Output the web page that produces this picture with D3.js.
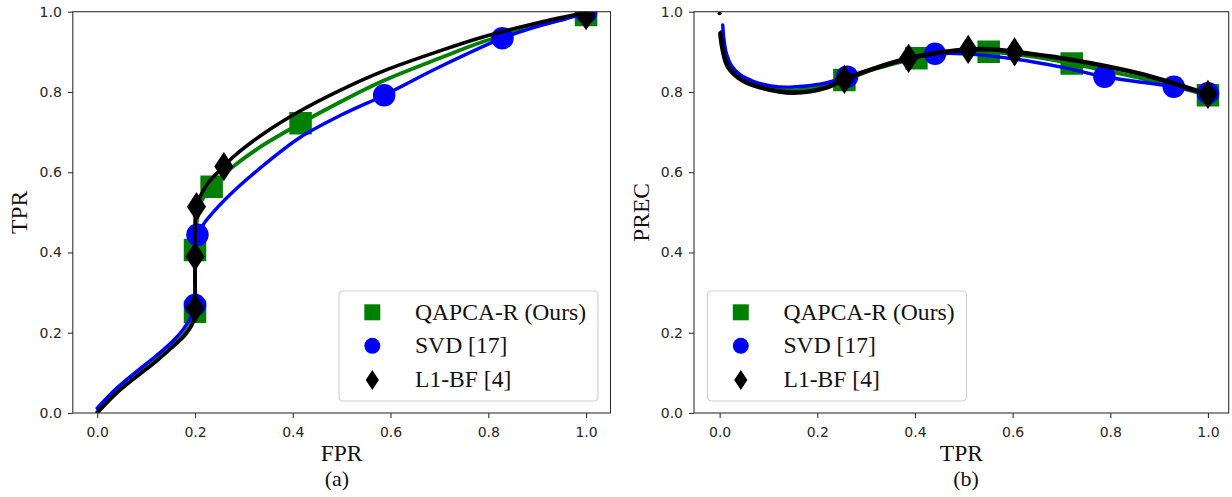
<!DOCTYPE html>
<html>
<head>
<meta charset="utf-8">
<script src="https://cdn.jsdelivr.net/npm/d3@7"></script>
<style>
  html, body { margin: 0; padding: 0; background: #fff; }
  svg { display: block; }
</style>
</head>
<body>
<svg id="chart" width="1232" height="497"></svg>
<script>
// ---------------- DATA ----------------
const tickValues = [0.0, 0.2, 0.4, 0.6, 0.8, 1.0];
const seriesNames = ["QAPCA-R (Ours)", "SVD [17]", "L1-BF [4]"];
const seriesColors = ["#008000", "#0000ff", "#000000"];
const seriesShapes = ["square", "circle", "diamond"];

// Panel (a): ROC curves, [FPR, TPR]
const rocQapcaLine = [[0,0.003],[0.04,0.052],[0.08,0.093],[0.12,0.132],[0.15,0.163],[0.18,0.2],[0.196,0.232],[0.2,0.26],[0.2,0.33],[0.2,0.406],[0.204,0.48],[0.214,0.53],[0.234,0.564],[0.278,0.614],[0.34,0.668],[0.416,0.722],[0.5,0.777],[0.585,0.828],[0.7,0.884],[0.789,0.925],[0.9,0.965],[1.0,0.995]];
const rocSvdLine   = [[0,0.012],[0.04,0.062],[0.08,0.103],[0.12,0.142],[0.15,0.174],[0.175,0.207],[0.192,0.24],[0.2,0.27],[0.2,0.35],[0.202,0.41],[0.205,0.444],[0.22,0.475],[0.237,0.5],[0.26,0.53],[0.29,0.565],[0.35,0.627],[0.414,0.686],[0.5,0.743],[0.587,0.792],[0.7,0.862],[0.829,0.934],[0.9,0.963],[0.96,0.983],[1.0,0.998]];
const rocL1bfLine  = [[0,0],[0.04,0.05],[0.08,0.09],[0.12,0.128],[0.15,0.16],[0.18,0.195],[0.196,0.226],[0.2,0.26],[0.2,0.33],[0.2,0.39],[0.2,0.45],[0.203,0.514],[0.225,0.57],[0.259,0.614],[0.278,0.638],[0.34,0.696],[0.414,0.752],[0.5,0.806],[0.585,0.852],[0.7,0.902],[0.789,0.937],[0.9,0.972],[0.96,0.988],[1.0,0.998]];
const rocQapcaMarks = [[0.2,0.252],[0.2,0.406],[0.234,0.564],[0.416,0.722],[1.0,0.992]];
const rocSvdMarks   = [[0.2,0.269],[0.205,0.444],[0.587,0.792],[0.829,0.934],[1.0,0.998]];
const rocL1bfMarks  = [[0.2,0.261],[0.2,0.39],[0.203,0.514],[0.259,0.614],[1.0,0.99]];

// Panel (b): precision curves, [TPR, PREC]
const prQapcaLine = [[0.004,0.95],[0.008,0.91],[0.015,0.876],[0.03,0.845],[0.06,0.822],[0.1,0.81],[0.15,0.804],[0.2,0.812],[0.2555,0.83],[0.32,0.858],[0.403,0.884],[0.47,0.897],[0.551,0.9],[0.63,0.89],[0.721,0.871],[0.86,0.835],[1.0,0.792]];
const prSvdLine   = [[0.0063,0.967],[0.009,0.93],[0.014,0.895],[0.024,0.866],[0.04,0.845],[0.07,0.826],[0.105,0.815],[0.144,0.812],[0.208,0.82],[0.261,0.838],[0.35,0.87],[0.441,0.895],[0.505,0.895],[0.604,0.882],[0.7,0.862],[0.788,0.838],[0.93,0.813],[1.0,0.797]];
const prL1bfLine  = [[0.0015,0.946],[0.0063,0.905],[0.017,0.863],[0.045,0.83],[0.081,0.812],[0.151,0.798],[0.222,0.812],[0.2555,0.8315],[0.32,0.86],[0.387,0.884],[0.45,0.898],[0.509,0.906],[0.56,0.906],[0.604,0.9],[0.717,0.881],[0.859,0.846],[1.0,0.794]];
const prQapcaMarks = [[0.2555,0.83],[0.403,0.884],[0.551,0.9],[0.721,0.871],[1.0,0.792]];
const prSvdMarks   = [[0.261,0.838],[0.441,0.895],[0.788,0.838],[0.93,0.813],[1.0,0.797]];
const prL1bfMarks  = [[0.2555,0.8315],[0.387,0.884],[0.509,0.906],[0.604,0.9],[1.0,0.794]];
const prL1bfOrigin = [[0,1.0]];

// ---------------- DRAW ----------------
const svg = d3.select("#chart");
const tickFont = "'DejaVu Sans', sans-serif";
const serif = "'Liberation Serif', 'Times New Roman', serif";

function markerPath(shape, s) {
  if (shape === "square") return `M${-s/2},${-s/2}H${s/2}V${s/2}H${-s/2}Z`;
  if (shape === "circle") { const r = s/2; return `M${r},0A${r},${r} 0 1,1 ${-r},0A${r},${r} 0 1,1 ${r},0Z`; }
  const h = s * 1.3 / 2, w = s * 0.85 / 2;
  return `M0,${-h}L${w},0L0,${h}L${-w},0Z`;
}

const panels = [
  { id: "a", xRange: [72.8, 610.5], xDomain: [-0.05, 1.05], xLabel: "FPR", yLabel: "TPR", caption: "(a)",
    yLabelX: 26.7, captionX: 337,
    lines: [rocQapcaLine, rocSvdLine, rocL1bfLine], widths: [3.8, 3.4, 3.6],
    marks: [rocQapcaMarks, rocSvdMarks, rocL1bfMarks], legendX: 339, extra: [] },
  { id: "b", xRange: [694, 1228.7], xDomain: [-0.0525, 1.0425], xLabel: "TPR", yLabel: "PREC", caption: "(b)",
    yLabelX: 649, captionX: 966,
    lines: [prQapcaLine, prSvdLine, prL1bfLine], widths: [4, 3.4, 4.6],
    marks: [prQapcaMarks, prSvdMarks, prL1bfMarks], legendX: 707.5, extra: prL1bfOrigin }
];

const yRange = [413, 11.7];

panels.forEach(p => {
  const x = d3.scaleLinear().domain(p.xDomain).range(p.xRange);
  const y = d3.scaleLinear().domain([0, 1]).range(yRange);
  const g = svg.append("g");

  const clipId = "clip-" + p.id;
  svg.append("clipPath").attr("id", clipId).append("rect")
    .attr("x", p.xRange[0]).attr("y", yRange[1])
    .attr("width", p.xRange[1] - p.xRange[0]).attr("height", yRange[0] - yRange[1]);

  const plot = g.append("g").attr("clip-path", `url(#${clipId})`);
  const line = d3.line().x(d => x(d[0])).y(d => y(d[1])).curve(d3.curveCatmullRom.alpha(0.5));

  p.lines.forEach((data, i) => {
    plot.append("path").datum(data).attr("d", line)
      .attr("fill", "none").attr("stroke", seriesColors[i])
      .attr("stroke-width", p.widths[i]).attr("stroke-linejoin", "round").attr("stroke-linecap", "round");
    const shape = seriesShapes[i];
    plot.selectAll(null).data(p.marks[i]).enter().append("path")
      .attr("transform", d => `translate(${x(d[0])},${y(d[1])})`)
      .attr("d", markerPath(shape, 22.5))
      .attr("fill", seriesColors[i]);
  });
  plot.selectAll(null).data(p.extra).enter().append("circle")
    .attr("cx", d => x(d[0])).attr("cy", d => y(d[1]) + 1.5).attr("r", 2).attr("fill", "#000");

  // spines
  g.append("rect").attr("x", p.xRange[0]).attr("y", yRange[1])
    .attr("width", p.xRange[1] - p.xRange[0]).attr("height", yRange[0] - yRange[1])
    .attr("fill", "none").attr("stroke", "#333").attr("stroke-width", 1.1);

  // axes
  const xAxis = g.append("g").attr("transform", `translate(0,${yRange[0]})`)
    .call(d3.axisBottom(x).tickValues(tickValues).tickFormat(d3.format(".1f")).tickSize(5).tickPadding(9));
  const yAxis = g.append("g").attr("transform", `translate(${p.xRange[0]},0)`)
    .call(d3.axisLeft(y).tickValues(tickValues).tickFormat(d3.format(".1f")).tickSize(5).tickPadding(6));
  [xAxis, yAxis].forEach(a => {
    a.select(".domain").remove();
    a.selectAll(".tick line").attr("stroke", "#333").attr("stroke-width", 1.1);
    a.selectAll(".tick text").attr("fill", "#262626").style("font-family", tickFont).style("font-size", "14px");
  });

  // labels
  const cx = (p.xRange[0] + p.xRange[1]) / 2;
  g.append("text").attr("x", cx).attr("y", 461).attr("text-anchor", "middle")
    .style("font-family", serif).style("font-size", "23.5px").attr("fill", "#111").text(p.xLabel);
  g.append("text").attr("x", p.captionX).attr("y", 486).attr("text-anchor", "middle")
    .style("font-family", serif).style("font-size", "22px").attr("fill", "#111").text(p.caption);
  g.append("text").attr("transform", `translate(${p.yLabelX},${(yRange[0] + yRange[1]) / 2}) rotate(-90)`)
    .attr("text-anchor", "middle")
    .style("font-family", serif).style("font-size", "23.5px").attr("fill", "#111").text(p.yLabel);

  // legend
  const lg = g.append("g").attr("transform", `translate(${p.legendX},291)`);
  lg.append("rect").attr("x", 0).attr("y", 0).attr("width", 259).attr("height", 110)
    .attr("rx", 4).attr("ry", 4).attr("fill", "#fff").attr("fill-opacity", 0.8)
    .attr("stroke", "#d0d0d0").attr("stroke-width", 1.1);
  const rowY = [21.3, 54.8, 89];
  seriesNames.forEach((name, i) => {
    const shape = seriesShapes[i];
    lg.append("path").attr("transform", `translate(33.3,${rowY[i]})`)
      .attr("d", markerPath(shape, shape === "diamond" ? 15.5 : 16)).attr("fill", seriesColors[i]);
    lg.append("text").attr("x", 76).attr("y", rowY[i] + 7.3)
      .style("font-family", serif).style("font-size", "23.6px").attr("fill", "#111").text(name);
  });
});
</script>
</body>
</html>
